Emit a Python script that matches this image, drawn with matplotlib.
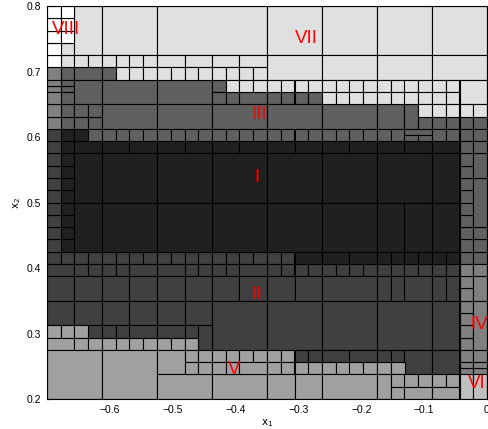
import matplotlib
matplotlib.use('Agg')
import matplotlib.pyplot as plt
from matplotlib.patches import Rectangle

# paving of [-0.7, 0] x [0.2, 0.8], boxes given in units of a 32 x 32 grid
x_min, x_max = -0.7, 0.0
y_min, y_max = 0.2, 0.8
n_grid = 32

# box = (i0, i1, j0, j1) or (i0, i1, j0, j1, nx, ny) -> region split in nx*ny equal boxes
boxes_I = [
    (1, 2, 12, 22, 1, 10), (2, 3, 21, 22), (2, 30, 20, 21, 14, 1),
    (2, 4, 16, 20), (4, 8, 16, 20), (8, 12, 16, 20), (12, 16, 16, 20),
    (16, 20, 16, 20), (20, 24, 16, 20), (24, 28, 16, 20), (28, 30, 16, 20),
    (2, 4, 12, 16), (4, 8, 12, 16), (8, 12, 12, 16), (12, 16, 12, 16),
    (16, 20, 12, 16), (20, 24, 12, 16), (24, 26, 12, 16), (26, 28, 12, 16), (28, 30, 12, 16),
    (18, 24, 11, 12, 3, 1), (24, 30, 11, 12, 6, 1),
]
boxes_II = [
    (0, 1, 11, 22, 1, 11), (1, 18, 11, 12, 17, 1),
    (0, 2, 10, 11), (2, 6, 10, 11, 4, 1), (6, 10, 10, 11, 2, 1), (10, 14, 10, 11, 4, 1),
    (14, 16, 10, 11), (16, 30, 10, 11, 14, 1),
    (0, 20, 8, 10, 10, 1), (20, 24, 8, 10), (24, 26, 8, 10, 2, 1), (26, 28, 8, 10), (28, 30, 8, 10, 2, 1),
    (0, 12, 6, 8, 6, 1),
    (12, 16, 4, 8), (16, 20, 4, 8), (20, 24, 4, 8), (24, 28, 4, 8), (28, 30, 4, 8),
    (3, 6, 5, 6, 3, 1), (6, 10, 5, 6, 2, 1), (10, 11, 5, 6), (11, 12, 4, 6),
    (18, 20, 3, 4, 2, 1), (20, 24, 3, 4, 2, 1), (24, 26, 3, 4, 2, 1),
    (26, 28, 2, 4), (28, 30, 2, 4),
]
boxes_III = [
    (1, 2, 26, 27), (1, 2, 25, 26, 1, 2), (1, 2, 22, 25, 1, 3),
    (2, 4, 26, 27), (4, 5, 26, 27),
    (2, 4, 24, 26), (4, 8, 24, 26), (8, 12, 24, 26), (12, 13, 25, 26),
    (12, 14, 24, 25, 2, 1), (14, 16, 24, 25),
    (2, 4, 22, 24, 2, 2), (4, 8, 22, 24), (8, 12, 22, 24), (12, 16, 22, 24),
    (16, 20, 24, 25, 4, 1),
    (16, 20, 22, 24), (20, 24, 22, 24), (24, 26, 22, 24), (26, 27, 22, 24),
    (27, 32, 22, 23, 5, 1),
    (3, 26, 21, 22, 23, 1), (26, 28, 21.5, 22), (26, 28, 21, 21.5, 2, 1), (28, 32, 21, 22, 4, 1),
    (30, 31, 11, 21, 1, 10),
    (31, 32, 11, 14, 1, 3), (31, 32, 14, 18), (31, 32, 18, 20), (31, 32, 20, 21),
]
boxes_IV = [
    (0, 1, 26, 27), (0, 1, 25, 26, 1, 2), (0, 1, 22, 25, 1, 3),
    (30, 31, 4, 11, 1, 7), (31, 32, 10, 11), (31, 32, 8, 10), (31, 32, 4, 8),
    (30, 32, 3, 4, 2, 1), (30, 32, 2, 3, 2, 2),
]
boxes_V = [
    (0, 3, 5, 6, 3, 1), (0, 2, 4, 5), (2, 11, 4, 5, 9, 1),
    (0, 4, 0, 4), (4, 8, 0, 4), (8, 10, 2, 4), (8, 12, 0, 2), (12, 16, 0, 2),
    (10, 18, 3, 4, 8, 1), (10, 14, 2, 3, 4, 1), (14, 16, 2, 3), (16, 26, 2, 3, 10, 1),
    (16, 20, 0, 2, 2, 1), (20, 24, 0, 2), (24, 25, 0, 2),
    (25, 30, 1, 2, 5, 1), (25, 26, 0, 1), (26, 30, 0, 1, 2, 1),
]
boxes_VI = [(30, 32, 0, 2, 2, 1)]
boxes_VII = [
    (1, 2, 27, 29, 1, 2),
    (2, 4, 28, 32), (4, 8, 28, 32), (8, 16, 28, 32), (16, 32, 28, 32, 4, 1),
    (16, 32, 26, 28, 4, 1),
    (2, 8, 27, 28, 6, 1), (8, 16, 27, 28, 4, 1),
    (5, 16, 26, 27, 11, 1),
    (13, 16, 25, 26, 3, 1), (16, 30, 25, 26, 14, 1), (30, 32, 24, 26),
    (20, 30, 24, 25, 10, 1),
    (27, 32, 23, 24, 5, 1),
]
boxes_VIII = [(0, 1, 27, 32, 1, 5), (1, 2, 29, 32, 1, 3)]

class_names = ['I', 'II', 'III', 'IV', 'V', 'VI', 'VII', 'VIII']
class_boxes = [boxes_I, boxes_II, boxes_III, boxes_IV, boxes_V, boxes_VI, boxes_VII, boxes_VIII]
class_grays = ['#202020', '#404040', '#606060', '#808080', '#a0a0a0', '#c0c0c0', '#e0e0e0', '#ffffff']
label_x = [-0.366, -0.367, -0.362, -0.013, -0.4025, -0.016, -0.288, -0.669]
label_y = [0.538, 0.359, 0.635, 0.3145, 0.2443, 0.223, 0.751, 0.764]

cell_w = (x_max - x_min) / n_grid
cell_h = (y_max - y_min) / n_grid

fig = plt.figure(figsize=(4.89, 4.29), dpi=100)
ax = fig.add_axes([47 / 489, 30 / 429, 440 / 489, 393 / 429])

for boxes, gray in zip(class_boxes, class_grays):
    for b in boxes:
        i0, i1, j0, j1 = b[:4]
        nx, ny = (b[4], b[5]) if len(b) > 4 else (1, 1)
        w = (i1 - i0) / nx
        h = (j1 - j0) / ny
        for a in range(nx):
            for c in range(ny):
                ax.add_patch(Rectangle((x_min + (i0 + a * w) * cell_w, y_min + (j0 + c * h) * cell_h),
                                       w * cell_w, h * cell_h, facecolor=gray,
                                       edgecolor='black', linewidth=0.8))

for name, lx, ly in zip(class_names, label_x, label_y):
    ax.text(lx, ly, name, color='red', fontsize=13.5, family='Liberation Sans',
            ha='center', va='center', clip_on=False)

ax.set_xlim(x_min, x_max)
ax.set_ylim(y_min, y_max)
ax.set_xticks([-0.6, -0.5, -0.4, -0.3, -0.2, -0.1, 0])
ax.set_xticklabels(['\u22120.6', '\u22120.5', '\u22120.4', '\u22120.3', '\u22120.2', '\u22120.1', '0'])
ax.set_yticks([0.2, 0.3, 0.4, 0.5, 0.6, 0.7, 0.8])
ax.set_yticklabels(['0.2', '0.3', '0.4', '0.5', '0.6', '0.7', '0.8'])
ax.tick_params(direction='in', length=3, labelsize=7.5, pad=4)
for lab in ax.get_xticklabels() + ax.get_yticklabels():
    lab.set_family('Liberation Sans')
ax.set_axisbelow(True)
ax.set_xlabel('x$_1$', fontsize=7.5, labelpad=2)
ax.set_ylabel('x$_2$', fontsize=7.5, labelpad=3)

fig.savefig('out.png', dpi=100)
